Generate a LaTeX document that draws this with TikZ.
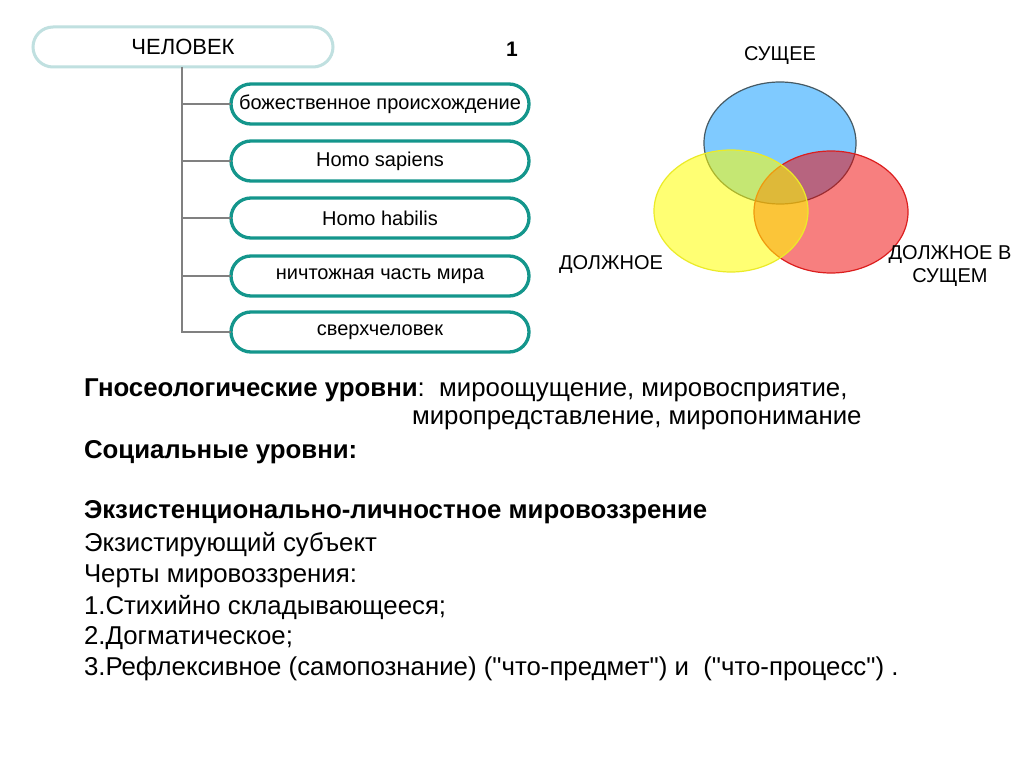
\documentclass[tikz,border=0pt]{standalone}
\usepackage{fontspec}
\setmainfont{Liberation Sans}[Ligatures=TeXOff]
\definecolor{topc}{RGB}{192,224,224}
\definecolor{childc}{RGB}{20,150,140}
\definecolor{branchc}{RGB}{128,128,128}
\definecolor{bluef}{RGB}{0,150,255}
\definecolor{yellowf}{RGB}{255,255,0}
\definecolor{redf}{RGB}{240,0,0}
\definecolor{bluel}{RGB}{70,90,100}
\definecolor{yellowl}{RGB}{235,235,40}
\definecolor{redl}{RGB}{220,30,30}
\begin{document}
\begin{tikzpicture}[x=1pt,y=-1pt,
  every node/.style={inner sep=0pt, outer sep=0pt},
  topbox/.style={draw=topc, line width=3pt, rounded corners=20pt, minimum width=300pt, minimum height=40pt, font=\fontsize{22}{24}\selectfont},
  childbox/.style={draw=childc, line width=3.3pt, rounded corners=20pt, minimum width=298pt, minimum height=40pt, font=\fontsize{20}{22}\selectfont},
  branch/.style={draw=branchc, line width=2pt},
  lbl/.style={font=\fontsize{20}{23}\selectfont, align=center},
  txt/.style={anchor=west, font=\fontsize{25.8}{30}\selectfont},
  venn/.style={line width=1.2pt}
]
\useasboundingbox (0,0) rectangle (1024,767);
\fill[white] (0,0) rectangle (1024,767);

\node[topbox] (man) at (183,47) {ЧЕЛОВЕК};
\node[font=\bfseries\fontsize{21}{24}\selectfont] (one) at (512,49) {1};

\node[childbox] (c1) at (380,104) {божественное происхождение};
\node[childbox] (c2) at (380,161) {Homo sapiens};
\node[childbox] (c3) at (380,218) {Homo habilis};
\node[childbox] (c4) at (380,276) {ничтожная часть мира};
\node[childbox] (c5) at (380,332) {сверхчеловек};

\coordinate (trunk) at (182,0);
\draw[branch] (man.south -| trunk) |- (c5.west);
\foreach \c in {c1,c2,c3,c4}{\draw[branch] (\c.west -| trunk) -- (\c.west);}

% Venn
\filldraw[venn, fill=bluef, fill opacity=0.5, draw=bluel] (780,143) ellipse [x radius=76, y radius=61];
\filldraw[venn, fill=redf, fill opacity=0.5, draw=redl] (831,212) ellipse [x radius=77, y radius=61];
\filldraw[venn, fill=yellowf, fill opacity=0.55, draw=yellowl] (731,211) ellipse [x radius=77, y radius=61];

\node[lbl] (l1) at (780,56) {СУЩЕЕ};
\node[lbl] (l2) at (611,265) {ДОЛЖНОЕ};
\node[lbl] (l3) at (950,266) {ДОЛЖНОЕ В\\СУЩЕМ};

% text block
\node[txt] (t1) at (84,390) {\textbf{Гносеологические уровни}:\ \ мироощущение, мировосприятие,};
\node[txt] (t2) at (412,420) {миропредставление, миропонимание};
\node[txt] (t3) at (84,452) {\textbf{Социальные уровни:}};
\node[txt] (t4) at (84,512) {\textbf{Экзистенционально-личностное мировоззрение}};
\node[txt] (t5) at (84,545) {Экзистирующий субъект};
\node[txt] (t6) at (84,576) {Черты мировоззрения:};
\node[txt] (t7) at (84,607) {1.Стихийно складывающееся;};
\node[txt] (t8) at (84,638) {2.Догматическое;};
\node[txt] (t9) at (84,669) {3.Рефлексивное (самопознание) ("что-предмет") и\ \ ("что-процесс") .};
\end{tikzpicture}
\end{document}
